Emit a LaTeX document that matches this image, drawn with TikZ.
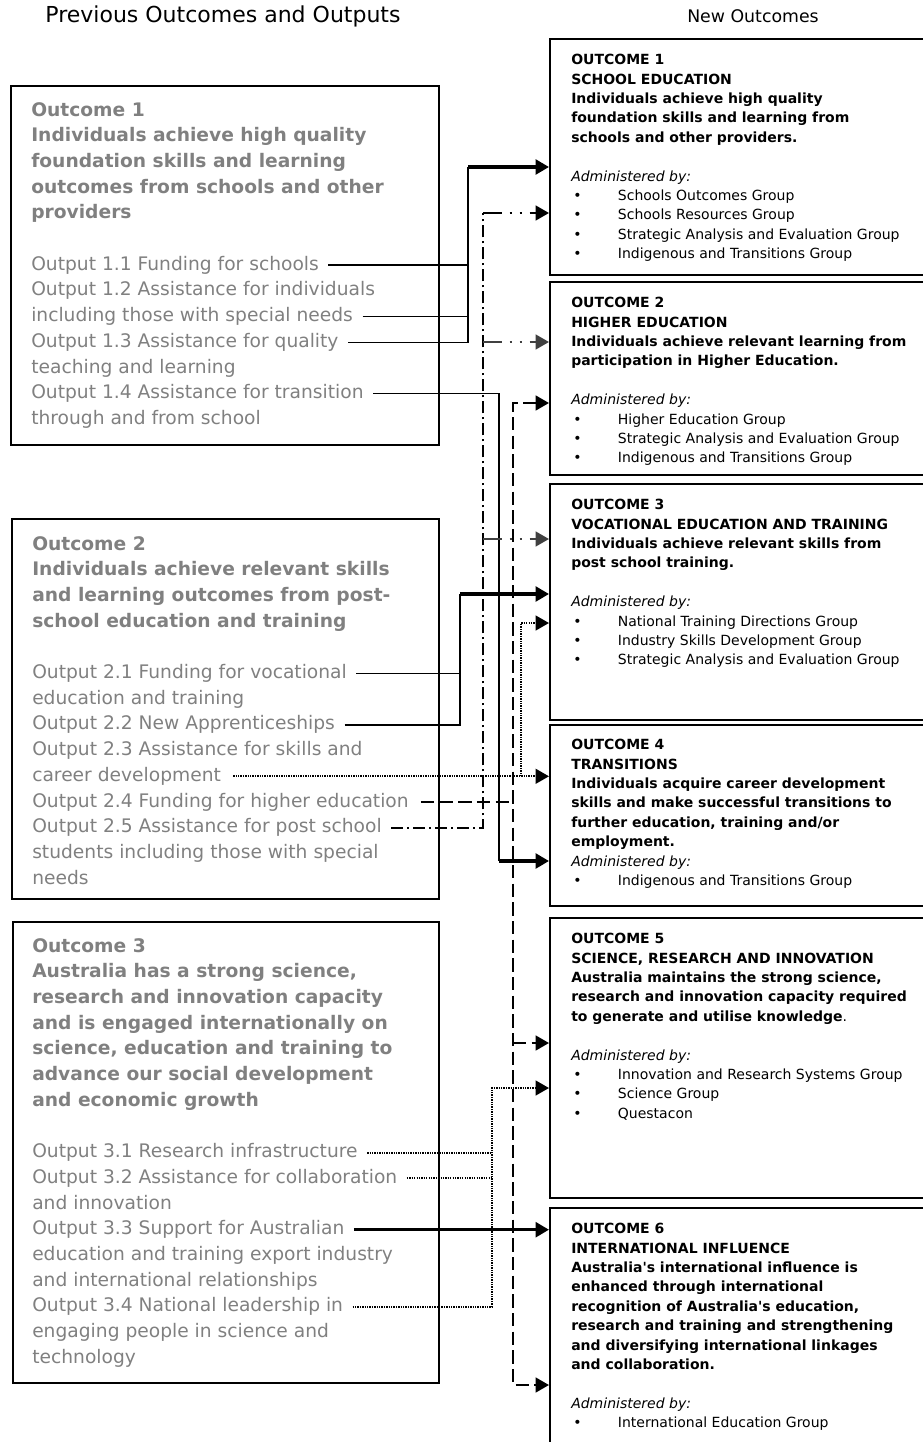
\documentclass[tikz,border=0pt]{standalone}
\usepackage{fontspec}
\setmainfont{DejaVu Sans}
\usetikzlibrary{arrows.meta,calc}

\newlength\px
\setlength\px{0.75pt}
\definecolor{oldgrey}{RGB}{128,128,128}
\definecolor{branchgrey}{RGB}{64,64,64}
\newcommand{\bul}{\makebox[35pt][l]{\hspace{1.5pt}\textbullet}}

\tikzset{
  >={Triangle[length=10pt,width=11pt]},
  headtxt/.style={inner sep=0pt, font={\fontsize{16.5pt}{19pt}\selectfont}},
  oldbox/.style={draw, line width=1.3pt, anchor=north west, inner sep=0pt},
  newbox/.style={draw, line width=1.6pt, anchor=north west, inner sep=0pt, minimum width=400\px},
  oldhead/.style={anchor=west, inner sep=0pt, text height=10.5pt, text depth=3pt, text=oldgrey, font={\fontsize{14pt}{19pt}\selectfont\bfseries}},
  oldline/.style={oldhead, font={\fontsize{14pt}{19pt}\selectfont}},
  newtxt/.style={anchor=north west, inner sep=0pt, align=left, font={\fontsize{10.5pt}{14.55pt}\selectfont}},
  solidln/.style={line width=1.1pt},
  thickln/.style={line width=2.4pt, ->},
  dashln/.style={line width=1.8pt, dash pattern=on 10pt off 4pt},
  dashdotln/.style={line width=1.7pt, dash pattern=on 9pt off 3pt on 1.5pt off 3pt},
  dashdotdotln/.style={line width=1.7pt, dash pattern=on 14pt off 6pt on 1.5pt off 6pt on 1.5pt off 6pt},
  dotln/.style={line width=1.6pt, dash pattern=on 1pt off 0.8pt},
}

\begin{document}
\begin{tikzpicture}[x=\px, y=-\px]
\useasboundingbox (0,0) rectangle (923,1442);
\clip (0,0) rectangle (923,1442);

\node[headtxt] (prevhead) at (223,16) {Previous Outcomes and Outputs};
\node[headtxt, font={\fontsize{13pt}{16pt}\selectfont}] (newhead) at (753,16) {New Outcomes};

% previous outcomes
\node[oldbox, minimum width=428\px, minimum height=359\px] (old1) at (10,85) {};
\node[oldbox, minimum width=427\px, minimum height=380\px] (old2) at (11,518) {};
\node[oldbox, minimum width=426\px, minimum height=461\px] (old3) at (12,921) {};

\foreach \t [count=\i from 0] in {Outcome 1, Individuals achieve high quality, foundation skills and learning, outcomes from schools and other, providers}
  \node[oldhead] (b1h\i) at ($(old1.north west)+(21,26+\i*25.7)$) {\t};
\foreach \t [count=\i from 6] in {Output 1.1 Funding for schools, Output 1.2 Assistance for individuals, including those with special needs, Output 1.3 Assistance for quality, teaching and learning, Output 1.4 Assistance for transition, through and from school}
  \node[oldline] (b1l\i) at ($(old1.north west)+(21,26+\i*25.7)$) {\t};

\foreach \t [count=\i from 0] in {Outcome 2, Individuals achieve relevant skills, and learning outcomes from post-, school education and training}
  \node[oldhead] (b2h\i) at ($(old2.north west)+(21,27+\i*25.7)$) {\t};
\foreach \t [count=\i from 5] in {Output 2.1 Funding for vocational, education and training, Output 2.2 New Apprenticeships, Output 2.3 Assistance for skills and, career development, Output 2.4 Funding for higher education, Output 2.5 Assistance for post school, students including those with special, needs}
  \node[oldline] (b2l\i) at ($(old2.north west)+(21,27+\i*25.7)$) {\t};

\foreach \t [count=\i from 0] in {Outcome 3, {Australia has a strong science,}, research and innovation capacity, and is engaged internationally on, {science, education and training to}, advance our social development, and economic growth}
  \node[oldhead] (b3h\i) at ($(old3.north west)+(20,26+\i*25.7)$) {\t};
\foreach \t [count=\i from 8] in {Output 3.1 Research infrastructure, Output 3.2 Assistance for collaboration, and innovation, Output 3.3 Support for Australian, education and training export industry, and international relationships, Output 3.4 National leadership in, engaging people in science and, technology}
  \node[oldline] (b3l\i) at ($(old3.north west)+(20,26+\i*25.7)$) {\t};

% new outcomes
\node[newbox, minimum height=236\px] (new1) at (549,38) {};
\node[newbox, minimum height=193\px] (new2) at (549,281) {};
\node[newbox, minimum height=236\px] (new3) at (549,483) {};
\node[newbox, minimum height=181\px] (new4) at (549,724) {};
\node[newbox, minimum height=280\px] (new5) at (549,917) {};
\node[newbox, minimum height=263\px] (new6) at (549,1207) {};

\node[newtxt] (t1) at ($(new1.north west)+(22,16)$) {\textbf{OUTCOME 1}\\ \textbf{SCHOOL EDUCATION}\\ \textbf{Individuals achieve high quality}\\ \textbf{foundation skills and learning from}\\ \textbf{schools and other providers.}\\ ~\\ \textit{Administered by:}\\ \bul Schools Outcomes Group\\ \bul Schools Resources Group\\ \bul Strategic Analysis and Evaluation Group\\ \bul Indigenous and Transitions Group};
\node[newtxt] (t2) at ($(new2.north west)+(22,16)$) {\textbf{OUTCOME 2}\\ \textbf{HIGHER EDUCATION}\\ \textbf{Individuals achieve relevant learning from}\\ \textbf{participation in Higher Education.}\\ ~\\ \textit{Administered by:}\\ \bul Higher Education Group\\ \bul Strategic Analysis and Evaluation Group\\ \bul Indigenous and Transitions Group};
\node[newtxt] (t3) at ($(new3.north west)+(22,16)$) {\textbf{OUTCOME 3}\\ \textbf{VOCATIONAL EDUCATION AND TRAINING}\\ \textbf{Individuals achieve relevant skills from}\\ \textbf{post school training.}\\ ~\\ \textit{Administered by:}\\ \bul National Training Directions Group\\ \bul Industry Skills Development Group\\ \bul Strategic Analysis and Evaluation Group};
\node[newtxt] (t4) at ($(new4.north west)+(22,15)$) {\textbf{OUTCOME 4}\\ \textbf{TRANSITIONS}\\ \textbf{Individuals acquire career development}\\ \textbf{skills and make successful transitions to}\\ \textbf{further education, training and/or}\\ \textbf{employment.}\\ \textit{Administered by:}\\ \bul Indigenous and Transitions Group};
\node[newtxt] (t5) at ($(new5.north west)+(22,16)$) {\textbf{OUTCOME 5}\\ \textbf{SCIENCE, RESEARCH AND INNOVATION}\\ \textbf{Australia maintains the strong science,}\\ \textbf{research and innovation capacity required}\\ \textbf{to generate and utilise knowledge}.\\ ~\\ \textit{Administered by:}\\ \bul Innovation and Research Systems Group\\ \bul Science Group\\ \bul Questacon};
\node[newtxt] (t6) at ($(new6.north west)+(22,16)$) {\textbf{OUTCOME 6}\\ \textbf{INTERNATIONAL INFLUENCE}\\ \textbf{Australia\textquotesingle s international influence is}\\ \textbf{enhanced through international}\\ \textbf{recognition of Australia\textquotesingle s education,}\\ \textbf{research and training and strengthening}\\ \textbf{and diversifying international linkages}\\ \textbf{and collaboration.}\\ ~\\ \textit{Administered by:}\\ \bul International Education Group};

% junctions
\coordinate (j1) at (468,167);
\coordinate (j3) at (460,594);
\coordinate (j4) at (499,861);
\coordinate (k3) at (521,623);
\coordinate (d2) at (513,403);
\coordinate (d5) at (513,1043);
\coordinate (d6) at (513,1385);
\coordinate (e1) at (483,213);
\coordinate (e2) at (483,342);
\coordinate (e3) at (483,539);
\coordinate (f5) at (492,1088);

% outcome 1 outputs
\draw[solidln] ([xshift=7pt]b1l6.east) -- (b1l6.east -| j1);
\draw[solidln] ([xshift=7pt]b1l8.east) -- (b1l8.east -| j1);
\draw[solidln] ([xshift=7pt]b1l9.east) -| (j1);
\draw[thickln] (j1) -- (j1 -| new1.west);
\draw[solidln] ([xshift=7pt]b1l11.east) -| (j4);
\draw[thickln] (j4) -- (j4 -| new4.west);

% outcome 2 outputs
\draw[solidln] ([xshift=7pt]b2l5.east) -- (b2l5.east -| j3);
\draw[solidln] ([xshift=7pt]b2l7.east) -| (j3);
\draw[thickln] (j3) -- (j3 -| new3.west);
\draw[dotln, ->] ([xshift=9pt]b2l9.east) -- (b2l9.east -| new4.west);
\draw[dotln, ->] (b2l9.east -| k3) -- (k3) -- (k3 -| new3.west);
\draw[dashln] ([xshift=9pt]b2l10.east) -- (b2l10.east -| d2);
\draw[dashln, <->] (d2 -| new2.west) -- (d2) -- (d6) -- (d6 -| new6.west);
\draw[dashln, ->] (d5) -- (d5 -| new5.west);
\draw[dashdotln] ([xshift=7pt]b2l11.east) -| (e1);
\draw[dashdotdotln, ->] (e1) -- (e1 -| new1.west);
\draw[dashdotdotln, branchgrey, ->] (e2) -- (e2 -| new2.west);
\draw[dashdotdotln, branchgrey, ->] (e3) -- (e3 -| new3.west);

% outcome 3 outputs
\draw[dotln] ([xshift=7pt]b3l8.east) -- (b3l8.east -| f5);
\draw[dotln] ([xshift=7pt]b3l9.east) -- (b3l9.east -| f5);
\draw[dotln, ->] ([xshift=7pt]b3l14.east) -| (f5) -- (f5 -| new5.west);
\draw[thickln] ([xshift=7pt]b3l11.east) -- (b3l11.east -| new6.west);
\end{tikzpicture}
\end{document}
